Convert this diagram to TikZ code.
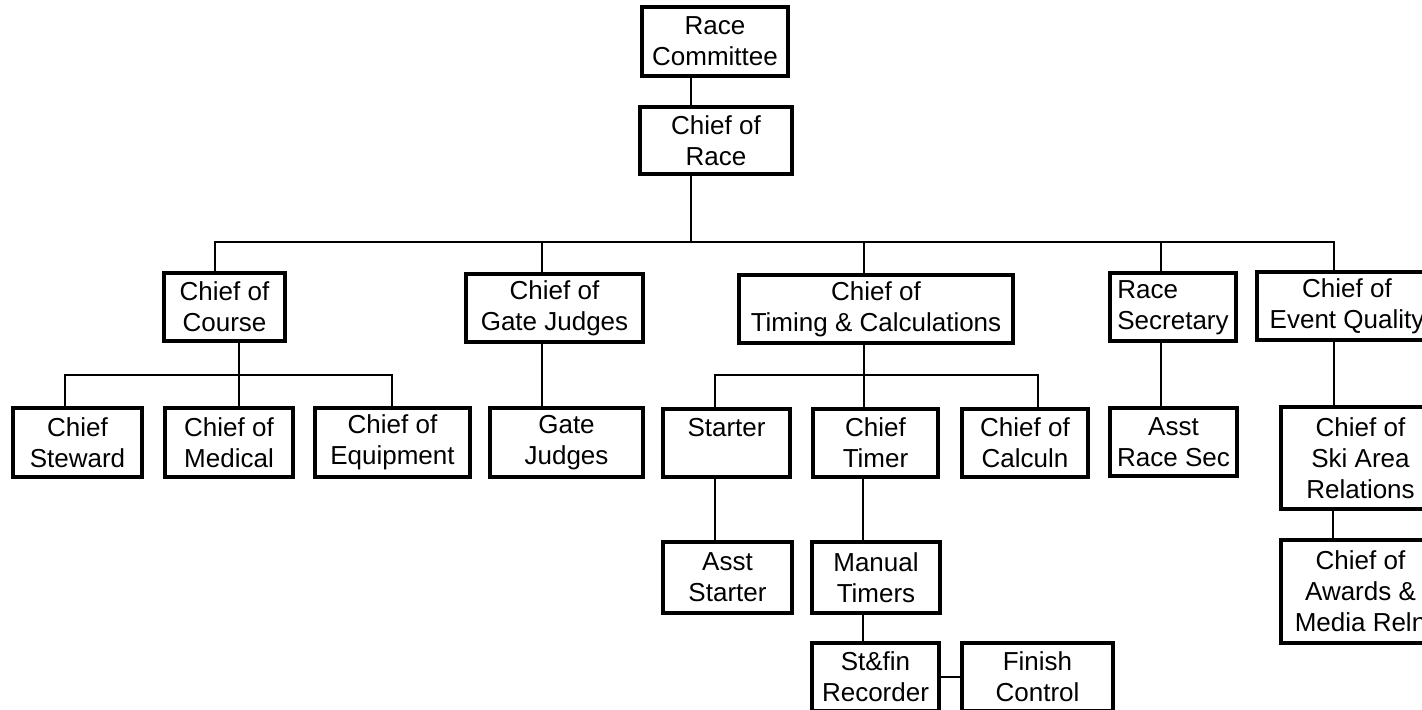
\documentclass[tikz,border=0pt]{standalone}
\usepackage{fontspec}
\setmainfont{Liberation Sans}

\begin{document}
\begin{tikzpicture}[x=0.5pt,y=-0.5pt,
  box/.style={draw,line width=2pt,inner sep=0pt,align=center,minimum height=34pt,
    font=\fontsize{13}{15.5}\selectfont},
  link/.style={line width=1pt}]
\useasboundingbox (0,0) rectangle (1422,710);

% bus levels
\coordinate (bus1) at (0,242);
\coordinate (bus2) at (0,375);

\node[box,minimum width=73pt,minimum height=34.5pt] (rc) at (715,41.5) {Race\\Committee};
\node[box,minimum width=76pt,minimum height=33.5pt] (cr) at (716,140.5) {Chief of\\Race};

\node[box,minimum width=60.5pt] (course) at (224.5,307) {Chief of\\Course};
\node[box,minimum width=88.5pt] (gate) at (554.5,308) {Chief of\\Gate Judges};
\node[box,minimum width=137pt] (timing) at (876,309) {Chief of\\Timing \& Calculations};
\node[box,minimum width=63pt,align=left] (sec) at (1173,307.5) {Race\\Secretary};
\node[box,minimum width=90pt] (eq) at (1347,306.5) {Chief of\\Event Quality};

\node[box,minimum width=64.5pt] (steward) at (77.5,442.5) {Chief\\Steward};
\node[box,minimum width=64pt] (medical) at (229,442.5) {Chief of\\Medical};
\node[box,minimum width=77.5pt] (equip) at (392.5,442.5) {Chief of\\Equipment};
\node[box,minimum width=76.5pt] (gj) at (566.5,442.5) {Gate\\Judges};
\node[box,minimum width=63.5pt] (starter) at (726.5,443) {Starter\\\phantom{Starter}};
\node[box,minimum width=62.5pt] (ctimer) at (875.5,443) {Chief\\Timer};
\node[box,minimum width=63pt] (calc) at (1025,443) {Chief of\\Calculn};
\node[box,minimum width=63.5pt] (asec) at (1173.5,442) {Asst\\Race Sec};
\node[box,minimum width=79.5pt,minimum height=51pt] (ski) at (1360.5,458) {Chief of\\Ski Area\\Relations};

\node[box,minimum width=64.5pt,minimum height=35.5pt] (astarter) at (727.5,577.5) {Asst\\Starter};
\node[box,minimum width=64pt,minimum height=35.5pt] (manual) at (876,577.5) {Manual\\Timers};
\node[box,minimum width=79.5pt,minimum height=51.5pt] (awards) at (1360.5,591.5) {Chief of\\Awards \&\\Media Reln};

\node[box,minimum width=63.5pt] (stfin) at (875.5,677) {St\&fin\\Recorder};
\node[box,minimum width=75.5pt] (finish) at (1037.5,677) {Finish\\Control};

% top of tree
\draw[link] (rc.south -| 691,0) -- (cr.north -| 691,0);
\draw[link] (cr.south -| 691,0) -- (691,0 |- bus1);
\draw[link] (course.north -| 215,0) -- (215,0 |- bus1) -- (1334,0 |- bus1) -- (eq.north -| 1334,0);
\foreach \n/\x in {gate/542,timing/864,sec/1161}
  \draw[link] (\n.north -| \x,0) -- (\x,0 |- bus1);

% course
\draw[link] (course.south -| 239,0) -- (239,0 |- bus2);
\draw[link] (steward.north -| 65,0) -- (65,0 |- bus2) -- (392,0 |- bus2) -- (equip.north -| 392,0);
\draw[link] (medical.north -| 239,0) -- (239,0 |- bus2);

% timing
\draw[link] (timing.south -| 864,0) -- (864,0 |- bus2);
\draw[link] (starter.north -| 715,0) -- (715,0 |- bus2) -- (1038,0 |- bus2) -- (calc.north -| 1038,0);
\draw[link] (ctimer.north -| 864,0) -- (864,0 |- bus2);
\draw[link] (starter.south -| 715,0) -- (astarter.north -| 715,0);
\draw[link] (ctimer.south -| 863,0) -- (manual.north -| 863,0);
\draw[link] (manual.south -| 863,0) -- (stfin.north -| 863,0);
\draw[link] (stfin.east) -- (finish.west);

% single chains
\draw[link] (gate.south -| 542,0) -- (gj.north -| 542,0);
\draw[link] (sec.south -| 1161,0) -- (asec.north -| 1161,0);
\draw[link] (eq.south -| 1334,0) -- (ski.north -| 1334,0);
\draw[link] (ski.south -| 1333,0) -- (awards.north -| 1333,0);

\end{tikzpicture}
\end{document}
